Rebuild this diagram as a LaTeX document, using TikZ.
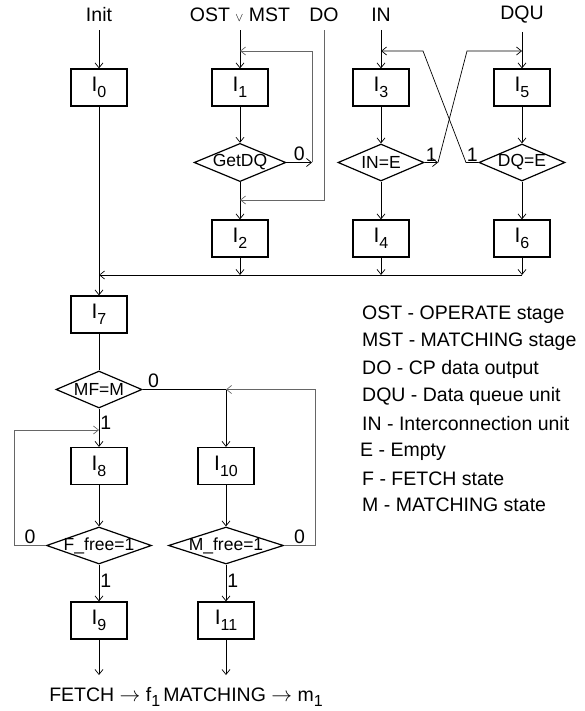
\documentclass[tikz,border=0pt]{standalone}
\usepackage{fontspec}
\setmainfont{Liberation Sans}
\usetikzlibrary{shapes.geometric,arrows.meta}
\newcommand{\lowidx}[1]{\raisebox{-0.3em}{\fontsize{16}{18}\selectfont #1}}
\begin{document}
\begin{tikzpicture}[x=1pt,y=-1pt,
  box/.style={draw,line width=1.2pt,minimum width=56pt,minimum height=37pt,inner sep=0pt,font=\fontsize{21}{23}\selectfont},
  cond/.style={draw,diamond,line width=1.2pt,aspect=2.4,minimum width=86pt,minimum height=37pt,inner sep=0pt,font=\fontsize{17.5}{19}\selectfont},
  toplbl/.style={inner xsep=0pt,inner ysep=8pt,font=\fontsize{19.5}{22}\selectfont},
  bit/.style={inner sep=1pt,font=\fontsize{19.5}{22}\selectfont},
  legend/.style={anchor=west,inner sep=0pt,font=\fontsize{19.5}{22}\selectfont},
  wire/.style={line width=0.7pt},
  flow/.style={line width=0.7pt,-{Straight Barb[length=5pt,width=8pt]}},
  back/.style={black!60}]
\pgfmathsetmacro{\xa}{99}
\pgfmathsetmacro{\xb}{240}
\pgfmathsetmacro{\xc}{381}
\pgfmathsetmacro{\xd}{522}
\pgfmathsetmacro{\xe}{226}
\useasboundingbox (0,0) rectangle (585,711);
\node[toplbl] (init) at (\xa,15) {Init};
\node[toplbl] (ostmst) at (\xb,15) {OST {\fontsize{13}{14}\selectfont$\vee$} MST};
\node[toplbl] (do) at (324,15) {DO};
\node[toplbl] (in) at (\xc,15) {IN};
\node[toplbl] (dqu) at (\xd,15) {DQU};
\node[box] (i0) at (\xa,87.5) {I\lowidx{0}};
\node[box] (i1) at (\xb,87.5) {I\lowidx{1}};
\node[box] (i3) at (\xc,87.5) {I\lowidx{3}};
\node[box] (i5) at (\xd,87.5) {I\lowidx{5}};
\node[cond] (getdq) at (\xb,162.5) {GetDQ};
\node[cond] (ine) at (\xc,162.5) {IN=E};
\node[cond] (dqe) at (\xd,162.5) {DQ=E};
\node[box] (i2) at (\xb,238.5) {I\lowidx{2}};
\node[box] (i4) at (\xc,238.5) {I\lowidx{4}};
\node[box] (i6) at (\xd,238.5) {I\lowidx{6}};
\node[box] (i7) at (\xa,314.5) {I\lowidx{7}};
\node[cond] (mfm) at (\xa,389.5) {MF=M};
\node[box] (i8) at (\xa,466) {I\lowidx{8}};
\node[box] (i10) at (\xe,466) {I\lowidx{10}};
\node[cond,aspect=2.8,inner sep=-4pt,minimum width=105pt] (ffree) at (\xa,545.5) {F\_free=1};
\node[cond,aspect=3.1,inner sep=-4pt,minimum width=115pt] (mfree) at (\xe,545.5) {M\_free=1};
\node[box] (i9) at (\xa,620.5) {I\lowidx{9}};
\node[box] (i11) at (\xe,620.5) {I\lowidx{11}};
\node[inner sep=0pt,font=\fontsize{19.5}{22}\selectfont] (outtxt) at (186,697) {FETCH $\rightarrow$ f\lowidx{1}\,MATCHING $\rightarrow$ m\lowidx{1}};
\node[legend] (lgost) at (362,315) {OST - OPERATE stage};
\node[legend] (lgmst) at (362,342) {MST - MATCHING stage};
\node[legend] (lgdo) at (362,369) {DO - CP data output};
\node[legend] (lgdqu) at (362,396) {DQU - Data queue unit};
\node[legend] (lgin) at (362,423.5) {IN - Interconnection unit};
\node[legend] (lge) at (360,452) {E - Empty};
\node[legend] (lgf) at (362,478.5) {F - FETCH state};
\node[legend] (lgm) at (362,505) {M - MATCHING state};
\coordinate (g0) at (312,162.5);
\coordinate (fb1) at (\xb,51);
\coordinate (j2) at (\xb,200);
\coordinate (c1) at (438,162.5);
\coordinate (c2) at (467,51);
\coordinate (fb5) at (\xd,51);
\coordinate (c4) at (466,162.5);
\coordinate (c5) at (423,51);
\coordinate (fb3) at (\xc,51);
\coordinate (m0) at (\xa,275);
\coordinate (m2) at (\xb,275);
\coordinate (m4) at (\xc,275);
\coordinate (m6) at (\xd,275);
\coordinate (j10) at (\xe,389.5);
\coordinate (j8) at (\xa,430);
\coordinate (l1) at (14,545.5);
\coordinate (r1) at (315,545.5);
\coordinate (e9) at (\xa,675);
\coordinate (e11) at (\xe,675);
\draw[flow] (init) -- (i0);
\draw[flow] (ostmst) -- (i1);
\draw[flow] (in) -- (i3);
\draw[flow] (dqu) -- (i5);
\draw[flow] (i1) -- (getdq);
\draw[flow] (i3) -- (ine);
\draw[flow] (i5) -- (dqe);
\draw[flow] (getdq) -- (i2);
\draw[flow] (ine) -- (i4);
\draw[flow] (dqe) -- (i6);
\draw[flow] (getdq.east) -- node[bit,above] {0} (g0);
\draw[flow,back] (g0) |- (fb1);
\draw[flow,back] (do) |- (j2);
\draw[flow] (ine.east) -- node[bit,above] {1} (c1);
\draw[flow] (c1) -- (c2) -- (fb5);
\draw[flow] (dqe.west) -- node[bit,above] {1} (c4) -- (c5) -- (fb3);
\draw[flow] (i2) -- (m2);
\draw[flow] (i4) -- (m4);
\draw[flow] (i6) -- (m6);
\draw[flow] (m6) -- (m0);
\draw[flow] (i0) -- (i7);
\draw[wire] (i7) -- (mfm);
\draw[flow] (mfm) -- node[bit,right,pos=0.36] {1} (i8);
\draw[wire] (mfm.east) -- node[bit,above,pos=0.13] {0} (j10);
\draw[flow] (j10) -- (i10);
\draw[flow] (i8) -- (ffree);
\draw[flow] (i10) -- (mfree);
\draw[flow] (ffree) -- node[bit,right,pos=0.43] {1} (i9);
\draw[flow] (mfree) -- node[bit,right,pos=0.43] {1} (i11);
\draw[flow,back] (ffree.west) -- node[bit,above,black] {0} (l1) |- (j8);
\draw[flow,back] (mfree.east) -- node[bit,above,black] {0} (r1) |- (j10);
\draw[flow] (i9) -- (e9);
\draw[flow] (i11) -- (e11);
\end{tikzpicture}
\end{document}
